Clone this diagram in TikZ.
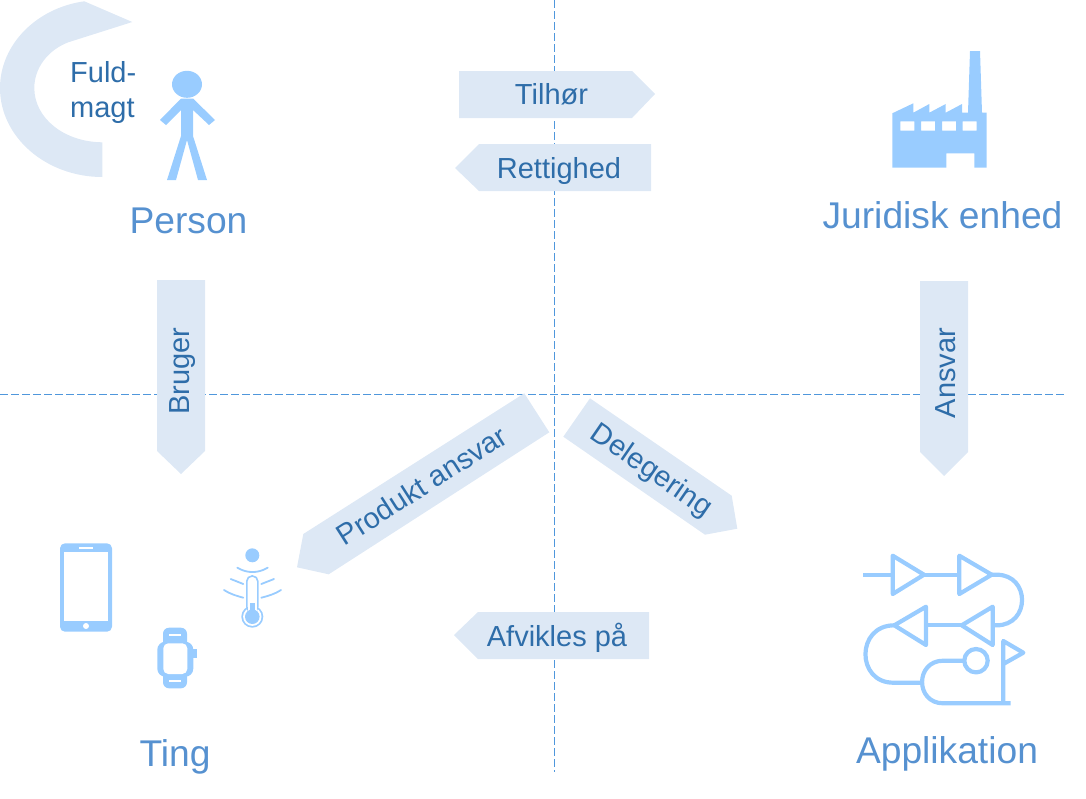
\documentclass[tikz,border=0pt]{standalone}
\usepackage{fontspec}
\setmainfont{Liberation Sans}
\definecolor{icon}{HTML}{99CCFF}
\definecolor{band}{HTML}{DDE8F5}
\definecolor{bandtext}{HTML}{2E6DA9}
\definecolor{bigtext}{HTML}{5691D0}
\definecolor{guide}{HTML}{4F97DC}
\tikzset{
  band/.style={fill=band,draw=none},
  bandlabel/.style={text=bandtext,font=\fontsize{29}{34}\selectfont,inner sep=0pt},
  title/.style={text=bigtext,font=\fontsize{37.2}{42}\selectfont,inner sep=0pt},
  guideline/.style={draw=guide,line width=1pt,dash pattern=on 7.5pt off 3.5pt},
  ic/.style={fill=icon,draw=none},
  ln/.style={draw=icon,line width=4.2pt,line join=round},
  th/.style={draw=icon,line width=1.8pt,line cap=round}
}
\begin{document}
\begin{tikzpicture}[x=1pt,y=-1pt]
\useasboundingbox (0,0) rectangle (1086,798);
% guides
\draw[guideline] (554.5,0) -- (554.5,772);
\draw[guideline] (0,394) -- (1065,394);
% bands
\path[band] (84.3,1.3) .. controls (36,8) and (0,45) .. (0,88) .. controls (0,137) and (46,177) .. (102.3,177) -- (102.3,142.3) .. controls (64,142) and (34.3,118) .. (34.3,88) .. controls (34.3,68) and (48,50) .. (68.3,42.3) -- (132.3,22) -- cycle;
\path[band] (459,71) -- (632,71) -- (655,94) -- (632,118) -- (459,118) -- cycle;
\path[band] (651,144) -- (479,144) -- (455,168) -- (479,191) -- (651,191) -- cycle;
\path[band] (157,280) -- (205,280) -- (205,451) -- (181,474) -- (157,451) -- cycle;
\path[band] (920,281) -- (968,281) -- (968,452) -- (944,476) -- (920,452) -- cycle;
\path[band] (649,612) -- (478,612) -- (454,635) -- (478,659) -- (649,659) -- cycle;
\path[band] (524.3,393.3) -- (549.3,432.3) -- (328.7,574.3) -- (297,567.3) -- (303.3,534) -- cycle;
\path[band] (590,398.3) -- (731.7,495.7) -- (737.3,528.7) -- (705,534.7) -- (563.3,436.7) -- cycle;
% person
\fill[ic] (187,84.3) ellipse [x radius=15,y radius=13.5];
\fill[ic] (181,98.5) -- (193,98.5) -- (215,120) -- (209,125) -- (193,110) -- (193,136) -- (207,180) -- (198,180) -- (187,140) -- (176,180) -- (167,180) -- (181,136) -- (181,110) -- (166,125) -- (160,120) -- cycle;
% factory
\fill[ic,even odd rule] (970,51) -- (980,51) -- (982,112.7) -- (986.7,112.7) -- (986.7,167.7) -- (974.3,167.7) -- (974.3,153.3) -- (946.3,153.3) -- (946.3,167.7) -- (892.3,167.7) -- (892.3,113.3) -- (913.3,103.3) -- (913.3,112.7) -- (929.3,104) -- (929.3,112.7) -- (945.7,104) -- (945.7,112.7) -- (962,104) -- (962,112.7) -- (968,112.7) -- cycle
 (900.3,121.3) rectangle (914.3,130.7) (921,121.3) rectangle (935,130.7) (942,121.3) rectangle (956,130.7) (962.7,121.3) rectangle (976.7,130.7);
% phone
\fill[ic,rounded corners=5pt] (60,543.3) rectangle (112,631.7);
\fill[white] (64,552.3) rectangle (108,620.7);
\fill[white] (79,546.5) rectangle (93,548.5);
\fill[white] (86,626) circle (3);
% watch
\fill[ic,rounded corners=6pt] (163,627.7) rectangle (187,688.3);
\fill[ic,rounded corners=8pt] (157.3,641.7) rectangle (193.3,676.7);
\fill[ic] (193,649.3) rectangle (196.7,658.3);
\fill[white,rounded corners=5pt] (163.3,643.3) rectangle (187.3,674);
\fill[white] (169.3,634) rectangle (181,636.3);
\fill[white] (169.3,679.7) rectangle (181,682);
% thermometer
\fill[ic] (252.3,555.3) circle (7);
\draw[th] (237.3,567.7) .. controls (247,573.5) and (258,573.5) .. (267.7,567.7);
\draw[th] (230.7,579) -- (243.3,584);
\draw[th] (274,579) -- (261.3,584);
\draw[th] (224,590) .. controls (230,594) and (237,596) .. (243.3,597.7);
\draw[th] (281,590) .. controls (275,594) and (268,596) .. (261.3,597.7);
\fill[ic] (252.3,616.7) circle (11);
\fill[white] (252.3,616.7) circle (9.2);
\draw[icon,fill=white,line width=1.6pt,rounded corners=5.2pt] (246.8,612) rectangle (257.8,576);
\fill[white] (247.6,606) rectangle (257,612);
\fill[ic] (250,602.7) rectangle (255,612);
\fill[ic] (252.3,616.7) circle (7.3);
% application
\draw[ln] (863.3,574.7) -- (892.7,574.7);
\draw[ln] (892.7,555.7) -- (892.7,594) -- (924,574.7) -- cycle;
\draw[ln] (924,574.7) -- (959.3,574.7);
\draw[ln] (959.3,555.7) -- (959.3,594) -- (991.7,574.7) -- cycle;
\draw[ln] (991.7,574.7) -- (996.7,574.7) .. controls (1030.5,574.7) and (1030.5,625.3) .. (996.7,625.3) -- (992.7,625.3);
\draw[ln] (992.7,606.7) -- (992.7,645) -- (961.7,625.3) -- cycle;
\draw[ln] (961.7,625.3) -- (926,625.3);
\draw[ln] (926,606.7) -- (926,645) -- (894.3,625.3) -- cycle;
\draw[ln] (894.3,625.3) .. controls (856,625.3) and (856,682.7) .. (893.3,682.7) -- (922.7,682.7);
\draw[ln] (965,660.7) -- (943.3,660.7) .. controls (915,660.7) and (915,703.3) .. (943.3,703.3) -- (1010.7,703.3);
\draw[ln] (976,660.7) circle (11.7);
\draw[ln] (1003.3,703.3) -- (1003.3,641) -- (1023.3,652.7) -- (1003.3,664);
% labels
\node[bandlabel,anchor=base west] (fuld) at (70,82) {Fuld-};
\node[bandlabel,anchor=base west] (magt) at (70,117) {magt};
\node[bandlabel] (tilhor) at (551.5,94.5) {Tilhør};
\node[bandlabel] (rett) at (559,170.5) {Rettighed};
\node[bandlabel,rotate=90] (bruger) at (183,371) {Bruger};
\node[bandlabel,rotate=90] (ansvar) at (945.5,373) {Ansvar};
\node[bandlabel] (afvik) at (557,637.5) {Afvikles på};
\node[bandlabel,rotate=32.5] (produkt) at (421.5,485.5) {Produkt ansvar};
\node[bandlabel,rotate=-34.5] (deleg) at (651,471.5) {Delegering};
\node[title] (person) at (188.5,221) {Person};
\node[title] (jur) at (942.5,215.5) {Juridisk enhed};
\node[title] (ting) at (175,756.5) {Ting};
\node[title] (app) at (947,753.5) {Applikation};
\end{tikzpicture}
\end{document}
